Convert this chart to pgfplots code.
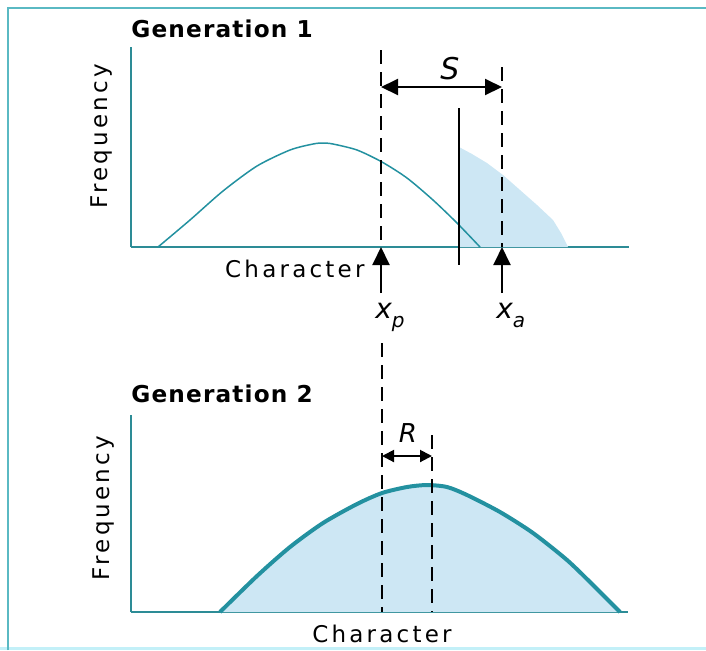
\documentclass[border=0pt]{standalone}
\usepackage{fontspec}
\setmainfont{DejaVu Sans}
\newfontfamily\lblfont{DejaVu Sans}[LetterSpace=14]
\newfontfamily\ttlfont{DejaVu Sans}[LetterSpace=5]
\usepackage{pgfplots}
\pgfplotsset{compat=1.18}
\usetikzlibrary{arrows.meta}
\definecolor{axisteal}{RGB}{45,140,150}
\definecolor{curveteal}{RGB}{35,145,160}
\definecolor{shade}{RGB}{205,231,244}
\definecolor{frameteal}{RGB}{90,185,195}
\definecolor{frameband}{RGB}{195,240,248}

% one pixel of the reference = 0.5pt
\pgfplotsset{
  every axis title shift=0pt,
  panel/.style={
    scale only axis, clip=false,
    axis lines=left,
    axis line style={draw=axisteal,line width=1pt,-},
    xtick=\empty, ytick=\empty,
    xlabel={Character}, ylabel={Frequency},
    label style={font=\lblfont\fontsize{11.5}{13}\selectfont},
    every axis title/.style={at={(0,1)},anchor=base west,inner sep=0pt,
      font=\ttlfont\bfseries\fontsize{11.6}{13}\selectfont},
  },
  dashv/.style={black,line width=1pt,dash pattern=on 7pt off 4pt},
}

\begin{document}
\begin{tikzpicture}
\useasboundingbox (0,0) rectangle (353pt,-325pt);
\fill[frameband] (0,-323.5pt) rectangle (353pt,-325pt);
\draw[frameteal,line width=1pt] (4pt,-325pt) -- (4pt,-4pt) -- (353pt,-4pt);

% ---- Generation 1 ----
\begin{axis}[panel,
  at={(65.5pt,-123.5pt)}, anchor=south west,
  width=249pt, height=100pt,
  xmin=131, xmax=629, ymin=0, ymax=200,
  title={Generation 1},
  title style={yshift=5pt},
  xlabel style={at={(axis description cs:0.329,0)},anchor=base,yshift=-15pt},
  ylabel style={at={(axis description cs:-0.048,0.555)},anchor=base},
]
% selected parents
\addplot[fill=shade,draw=none] coordinates {
  (459,0) (459,100) (472,93) (487,84) (503,72) (520,57) (537,42) (553,27) (561,14) (568,0)} \closedcycle;
% population
\addplot[curveteal,line width=0.75pt,smooth,tension=0.45] coordinates {
  (158,0) (190,27) (223,56) (257,81) (290,97) (313,103) (323,104) (333,103)
  (357,97) (382,85) (407,69) (433,47) (457,24) (480,0)};
% truncation point
\addplot[black,line width=0.9pt] coordinates {(459,139) (459,-18)};
\addplot[dashv] coordinates {(381,197) (381,0)};
\addplot[dashv] coordinates {(502,180) (502,0)};
\addplot[black,line width=1pt,{Triangle[length=8.5pt,width=8pt]}-{Triangle[length=8.5pt,width=8pt]}]
  coordinates {(381,160) (502,160)};
\node[font=\itshape\fontsize{15}{17}\selectfont] at (axis cs:450,178) {S};
\addplot[black,line width=1pt,-{Triangle[length=9pt,width=8.5pt]}] coordinates {(381,-46) (381,0)};
\addplot[black,line width=1pt,-{Triangle[length=9pt,width=8.5pt]}] coordinates {(502,-46) (502,0)};
\node[anchor=base west,inner sep=0pt,font=\itshape\fontsize{14}{16}\selectfont]
  at (axis cs:375,-71) {x\raisebox{-4.5pt}{\fontsize{10}{12}\selectfont p}};
\node[anchor=base west,inner sep=0pt,font=\itshape\fontsize{14}{16}\selectfont]
  at (axis cs:496,-71) {x\raisebox{-4.5pt}{\fontsize{10}{12}\selectfont a}};
\end{axis}

% ---- Generation 2 ----
\begin{axis}[panel,
  at={(65.5pt,-306pt)}, anchor=south west,
  width=248.5pt, height=98.5pt,
  xmin=131, xmax=628, ymin=0, ymax=197,
  title={Generation 2},
  title style={yshift=6.5pt},
  xlabel style={at={(axis description cs:0.505,0)},anchor=base,yshift=-15pt},
  ylabel style={at={(axis description cs:-0.044,0.528)},anchor=base},
]
\addplot[fill=shade,draw=none,smooth,tension=0.45] coordinates {
  (220,0) (257,36) (290,65) (323,89) (357,108) (382,119) (407,125)
  (427,127) (447,125) (467,117) (500,100) (533,79) (567,52) (593,27) (620,0)} \closedcycle;
\addplot[curveteal,line width=2pt,smooth,tension=0.45] coordinates {
  (220,0) (257,36) (290,65) (323,89) (357,108) (382,119) (407,125)
  (427,127) (447,125) (467,117) (500,100) (533,79) (567,52) (593,27) (620,0)};
\addplot[dashv] coordinates {(381.5,269) (381.5,0)};
\addplot[dashv] coordinates {(432,177) (432,0)};
\addplot[black,line width=1pt,{Triangle[length=6pt,width=6pt]}-{Triangle[length=6pt,width=6pt]}]
  coordinates {(382,156) (432,156)};
\node[font=\itshape\fontsize{13}{15}\selectfont] at (axis cs:408,179) {R};
\end{axis}
\end{tikzpicture}
\end{document}
